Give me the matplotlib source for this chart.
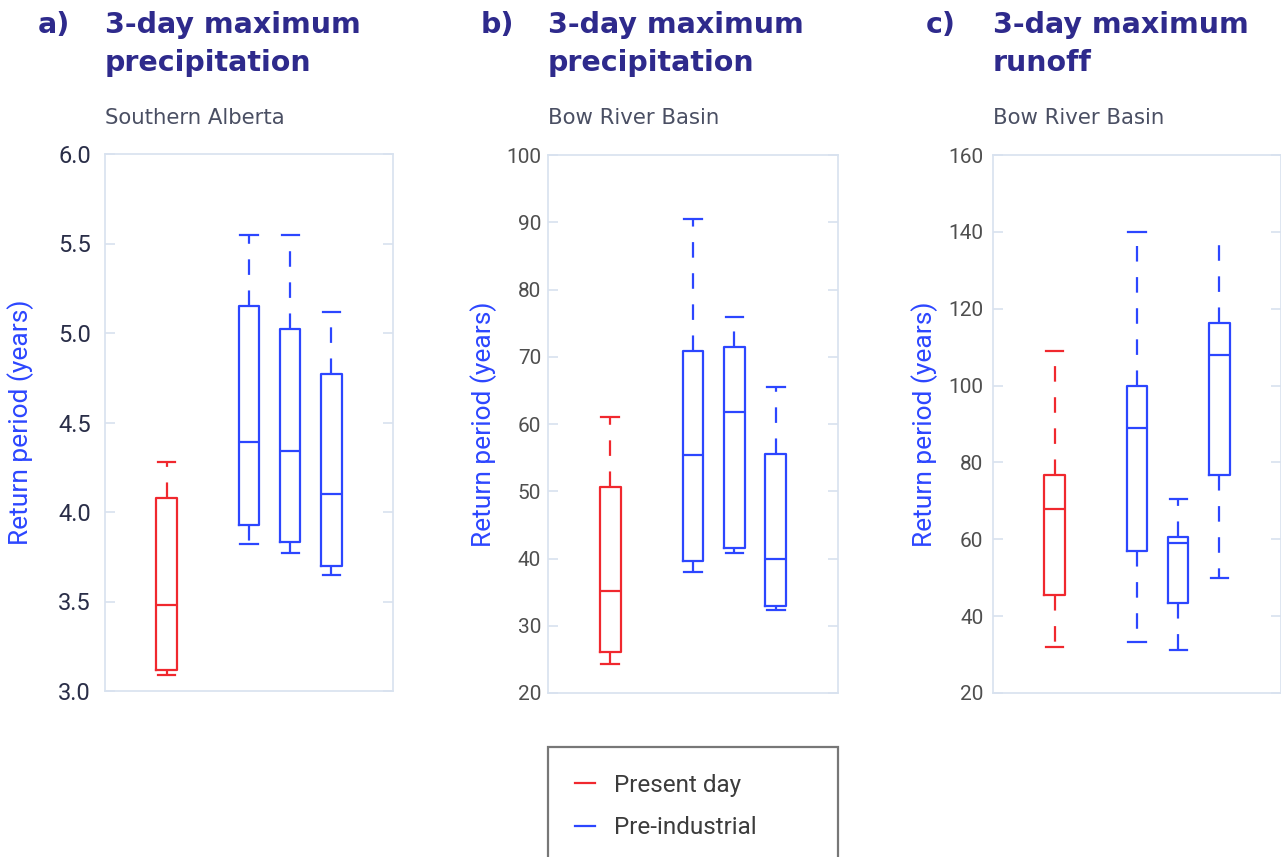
import matplotlib
matplotlib.use("Agg")
import matplotlib.pyplot as plt
from matplotlib.lines import Line2D

# ---------------- data ----------------
panel_letters = ["a)", "b)", "c)"]
panel_titles = [["3-day maximum", "precipitation"], ["3-day maximum", "precipitation"], ["3-day maximum", "runoff"]]
panel_regions = ["Southern Alberta", "Bow River Basin", "Bow River Basin"]
y_label = "Return period (years)"
series_names = ["Present day", "Pre-industrial", "Pre-industrial", "Pre-industrial"]

# per box: whisker low, q1, median, q3, whisker high
a_whislo = [3.09, 3.82, 3.77, 3.65]
a_q1     = [3.12, 3.93, 3.83, 3.70]
a_med    = [3.48, 4.39, 4.34, 4.10]
a_q3     = [4.08, 5.15, 5.02, 4.77]
a_whishi = [4.28, 5.55, 5.55, 5.12]

b_whislo = [24.3, 38.0, 40.8, 32.3]
b_q1     = [26.1, 39.6, 41.6, 33.0]
b_med    = [35.2, 55.4, 61.8, 40.0]
b_q3     = [50.6, 70.9, 71.5, 55.5]
b_whishi = [61.1, 90.5, 75.9, 65.5]

c_whislo = [32.1, 33.2, 31.3, 50.0]
c_q1     = [45.4, 57.0, 43.4, 76.6]
c_med    = [68.0, 88.9, 59.1, 108.0]
c_q3     = [76.6, 100.0, 60.6, 116.2]
c_whishi = [109.0, 140.0, 70.5, 136.7]

a_ticks = [3.0, 3.5, 4.0, 4.5, 5.0, 5.5, 6.0]
b_ticks = [20, 30, 40, 50, 60, 70, 80, 90, 100]
c_ticks = [20, 40, 60, 80, 100, 120, 140, 160]
# --------------------------------------

RED = "#f0282e"
BLUE = "#2c46ff"
NAVY = "#2e2a8c"
SPINE = "#d8e2ef"

W, H = 1281, 857
fig = plt.figure(figsize=(W / 100, H / 100), dpi=100)

def fx(px):
    return px / W

def fy(px):
    return 1 - px / H

panels = [
    dict(box=(105, 154, 393, 691), data=(a_whislo, a_q1, a_med, a_q3, a_whishi), ticks=a_ticks,
         fmt="{:.1f}", tsize=17, tcolor="#2a2e48", pad=10, ylab_x=21),
    dict(box=(548, 155, 838, 693), data=(b_whislo, b_q1, b_med, b_q3, b_whishi), ticks=b_ticks,
         fmt="{:d}", tsize=15, tcolor="#4f4f4f", pad=5, ylab_x=484),
    dict(box=(993, 155, 1281, 693), data=(c_whislo, c_q1, c_med, c_q3, c_whishi), ticks=c_ticks,
         fmt="{:d}", tsize=15, tcolor="#4f4f4f", pad=7, ylab_x=925),
]

positions = [1.5, 3.5, 4.5, 5.5]

for i, p in enumerate(panels):
    x0, y0, x1, y1 = p["box"]
    ax = fig.add_axes([fx(x0), fy(y1), (x1 - x0) / W, (y1 - y0) / H])
    wl, q1, md, q3, wh = p["data"]
    stats = []
    for k in range(len(wl)):
        stats.append(dict(whislo=wl[k], q1=q1[k], med=md[k], q3=q3[k], whishi=wh[k], label=""))
    art = ax.bxp(stats, positions=positions, widths=0.5, capwidths=0.42, showfliers=False,
                 patch_artist=False, manage_ticks=False)
    colors = [RED, BLUE, BLUE, BLUE]
    for k, c in enumerate(colors):
        art["boxes"][k].set(color=c, linewidth=1.6)
        art["medians"][k].set(color=c, linewidth=1.6)
        for j in (2 * k, 2 * k + 1):
            art["whiskers"][j].set(color=c, linewidth=1.6, linestyle=(0, (7, 7)))
            art["caps"][j].set(color=c, linewidth=1.6)
    if i == 2:
        art["caps"][7].set_visible(False)
    ax.set_xlim(0, 7)
    ax.set_ylim(p["ticks"][0], p["ticks"][-1])
    ax.set_yticks(p["ticks"])
    ax.set_yticklabels([p["fmt"].format(t) for t in p["ticks"]])
    ax.set_xticks([])
    for s in ax.spines.values():
        s.set_color(SPINE)
        s.set_linewidth(1.2)
    ax.tick_params(axis="y", which="both", direction="in", length=7, width=1.2, color=SPINE,
                   left=True, right=True, labelsize=p["tsize"], labelcolor=p["tcolor"], pad=p["pad"])
    for lab in ax.get_yticklabels():
        lab.set_fontfamily("Roboto")
    # y label
    fig.text(fx(p["ylab_x"]), fy((y0 + y1) / 2), y_label, rotation=90, color=BLUE,
             fontsize=19, fontfamily="Roboto", ha="center", va="center")
    # titles
    fig.text(fx(x0 - 67), fy(33), panel_letters[i], color=NAVY, fontsize=20.5, fontweight="bold",
             fontfamily="DejaVu Sans", ha="left", va="baseline")
    for ln, line in enumerate(panel_titles[i]):
        fig.text(fx(x0), fy(33 + 38 * ln), line, color=NAVY, fontsize=20.5, fontweight="bold",
                 fontfamily="DejaVu Sans", ha="left", va="baseline")
    fig.text(fx(x0), fy(124), panel_regions[i], color="#4a4f63", fontsize=15.3,
             fontfamily="DejaVu Sans", ha="left", va="baseline")

handles = [Line2D([], [], color=RED, lw=1.6), Line2D([], [], color=BLUE, lw=1.6)]
leg = fig.legend(handles, [series_names[0], series_names[1]], loc="upper left",
                 bbox_to_anchor=(fx(548), fy(747), 290 / W, 0), mode="expand",
                 frameon=True, fancybox=False, borderpad=1.1, labelspacing=0.8,
                 handlelength=0.85, handletextpad=0.75, borderaxespad=0,
                 prop=dict(family="Roboto", size=17.5))
leg.get_frame().set_edgecolor("#555555")
leg.get_frame().set_linewidth(1.6)
for t in leg.get_texts():
    t.set_color("#3c3c3c")

fig.savefig("out.png", dpi=100)
